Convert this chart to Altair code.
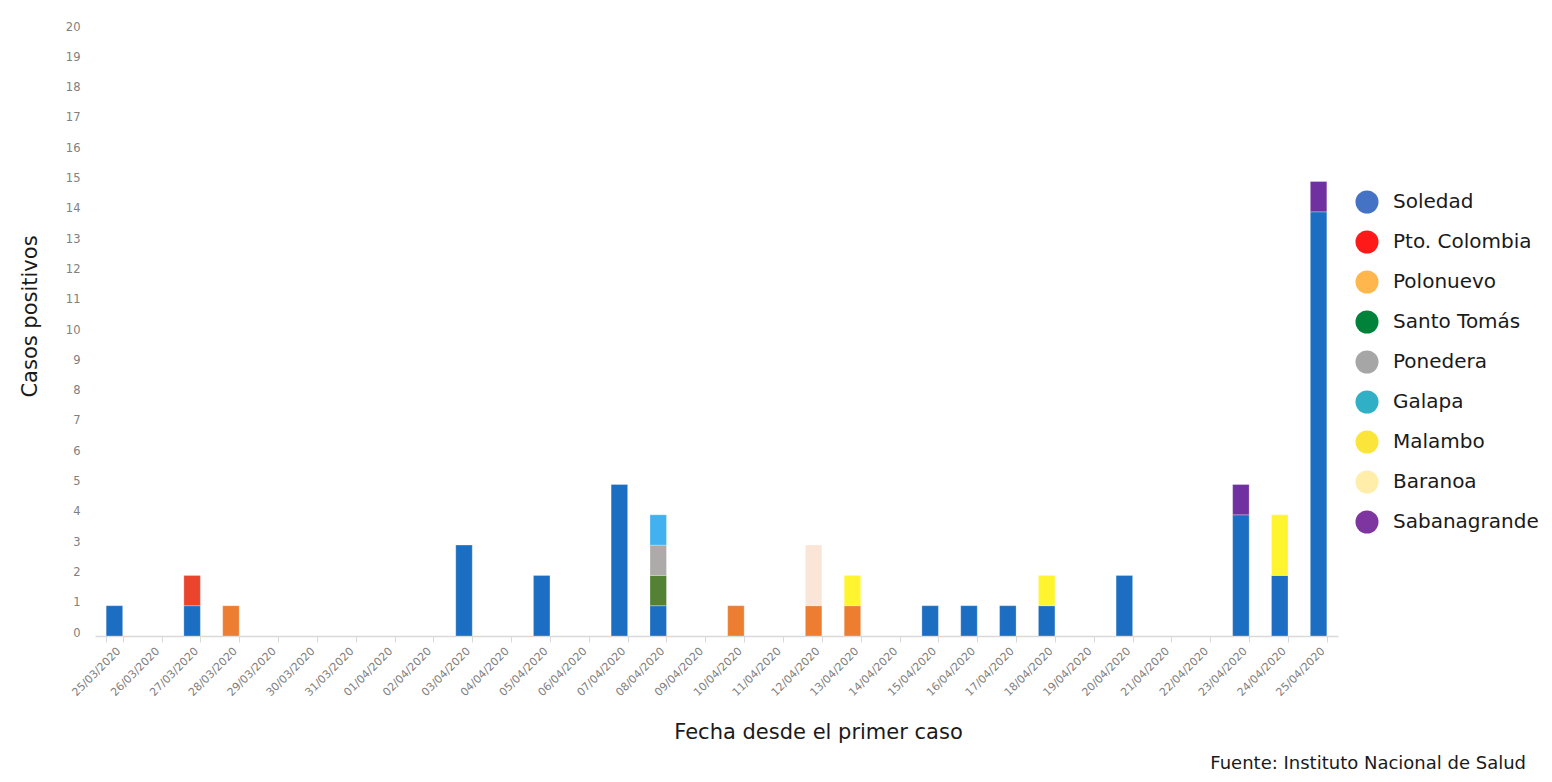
import altair as alt
import pandas as pd

fechas = [
    "25/03/2020", "26/03/2020", "27/03/2020", "28/03/2020", "29/03/2020",
    "30/03/2020", "31/03/2020", "01/04/2020", "02/04/2020", "03/04/2020",
    "04/04/2020", "05/04/2020", "06/04/2020", "07/04/2020", "08/04/2020",
    "09/04/2020", "10/04/2020", "11/04/2020", "12/04/2020", "13/04/2020",
    "14/04/2020", "15/04/2020", "16/04/2020", "17/04/2020", "18/04/2020",
    "19/04/2020", "20/04/2020", "21/04/2020", "22/04/2020", "23/04/2020",
    "24/04/2020", "25/04/2020",
]

municipios = [
    "Soledad", "Pto. Colombia", "Polonuevo", "Santo Tomás", "Ponedera",
    "Galapa", "Malambo", "Baranoa", "Sabanagrande",
]

colores_barras = [
    "#1b6ec2", "#e8452c", "#ed7d31", "#548235", "#aeaaaa",
    "#41b1f0", "#fff52e", "#fbe5d6", "#7030a0",
]

colores_leyenda = [
    "#4472c4", "#ff1a1a", "#ffb74d", "#00823b", "#a6a6a6",
    "#2fb0c7", "#fbe53b", "#ffeeaa", "#7f35a0",
]

registro_fecha = [
    "25/03/2020", "27/03/2020", "27/03/2020", "28/03/2020", "03/04/2020",
    "05/04/2020", "07/04/2020", "08/04/2020", "08/04/2020", "08/04/2020",
    "08/04/2020", "10/04/2020", "12/04/2020", "12/04/2020", "13/04/2020",
    "13/04/2020", "15/04/2020", "16/04/2020", "17/04/2020", "18/04/2020",
    "18/04/2020", "20/04/2020", "23/04/2020", "23/04/2020", "24/04/2020",
    "24/04/2020", "25/04/2020", "25/04/2020",
]
registro_municipio = [
    "Soledad", "Soledad", "Pto. Colombia", "Polonuevo", "Soledad",
    "Soledad", "Soledad", "Soledad", "Santo Tomás", "Ponedera",
    "Galapa", "Polonuevo", "Polonuevo", "Baranoa", "Polonuevo",
    "Malambo", "Soledad", "Soledad", "Soledad", "Soledad",
    "Malambo", "Soledad", "Soledad", "Sabanagrande", "Soledad",
    "Malambo", "Soledad", "Sabanagrande",
]
registro_casos = [
    1, 1, 1, 1, 3,
    2, 5, 1, 1, 1,
    1, 1, 1, 2, 1,
    1, 1, 1, 1, 1,
    1, 2, 4, 1, 2,
    2, 14, 1,
]

df = pd.DataFrame({
    "fecha": registro_fecha,
    "municipio": registro_municipio,
    "casos": registro_casos,
})
df["orden"] = df["municipio"].map({m: i for i, m in enumerate(municipios)})
df_leyenda = pd.DataFrame({"municipio": municipios})

FONT = "DejaVu Sans"

barras = alt.Chart(df).mark_bar(stroke="#ffffff", strokeOpacity=0.35, strokeWidth=0.8).encode(
    x=alt.X(
        "fecha:N",
        sort=fechas,
        scale=alt.Scale(domain=fechas, paddingInner=0.575, paddingOuter=0.2875),
        axis=alt.Axis(
            title="Fecha desde el primer caso",
            labelAngle=-45,
            labelFont=FONT,
            labelFontSize=11,
            labelColor="#808080",
            labelPadding=3,
            domainColor="#d9d9d9",
            domainWidth=1.5,
            tickColor="#d9d9d9",
            tickSize=6,
            tickBand="extent",
            grid=False,
            titleFont=FONT,
            titleFontSize=21,
            titleFontWeight="normal",
            titleColor="#1a1a1a",
            titleX=723,
            titleY=96,
            titleAlign="center",
            titleBaseline="middle",
        ),
    ),
    y=alt.Y(
        "casos:Q",
        stack="zero",
        scale=alt.Scale(domain=[0, 20], nice=False),
        axis=alt.Axis(
            title="Casos positivos",
            values=list(range(21)),
            format="d",
            domain=False,
            ticks=False,
            grid=False,
            labelFont=FONT,
            labelFontSize=11.5,
            labelColor="#808080",
            labelPadding=15,
            labelOffset=-3,
            titleFont=FONT,
            titleFontSize=21,
            titleFontWeight="normal",
            titleColor="#1a1a1a",
            titleX=-65,
            titleY=286,
            titleAlign="center",
            titleBaseline="middle",
        ),
    ),
    color=alt.Color(
        "municipio:N",
        scale=alt.Scale(domain=municipios, range=colores_barras),
        legend=None,
    ),
    order=alt.Order("orden:Q", sort="ascending"),
)

leyenda = alt.Chart(df_leyenda).mark_circle(opacity=0, size=0).encode(
    color=alt.Color(
        "municipio:N",
        scale=alt.Scale(domain=municipios, range=colores_leyenda),
        legend=alt.Legend(
            title=None,
            orient="none",
            legendX=1260,
            legendY=160,
            symbolType="circle",
            symbolSize=530,
            symbolOpacity=1,
            symbolStrokeWidth=0,
            labelFont=FONT,
            labelFontSize=20,
            labelColor="#1a1a1a",
            labelOffset=14,
            rowPadding=16,
            labelLimit=300,
        ),
    ),
)

chart = alt.layer(barras, leyenda).resolve_scale(color="independent").properties(
    width=1243,
    height=606,
    padding={"left": 87, "top": 22, "right": 206, "bottom": 138},
    autosize=alt.AutoSizeParams(type="none"),
    title=alt.TitleParams(
        "Fuente: Instituto Nacional de Salud",
        orient="bottom",
        anchor="end",
        frame="group",
        dx=188,
        offset=13,
        font=FONT,
        fontSize=18,
        fontWeight="normal",
        color="#1a1a1a",
    ),
).configure_view(stroke=None)

chart.save("out.html", embed_options={"renderer": "svg", "actions": False})
